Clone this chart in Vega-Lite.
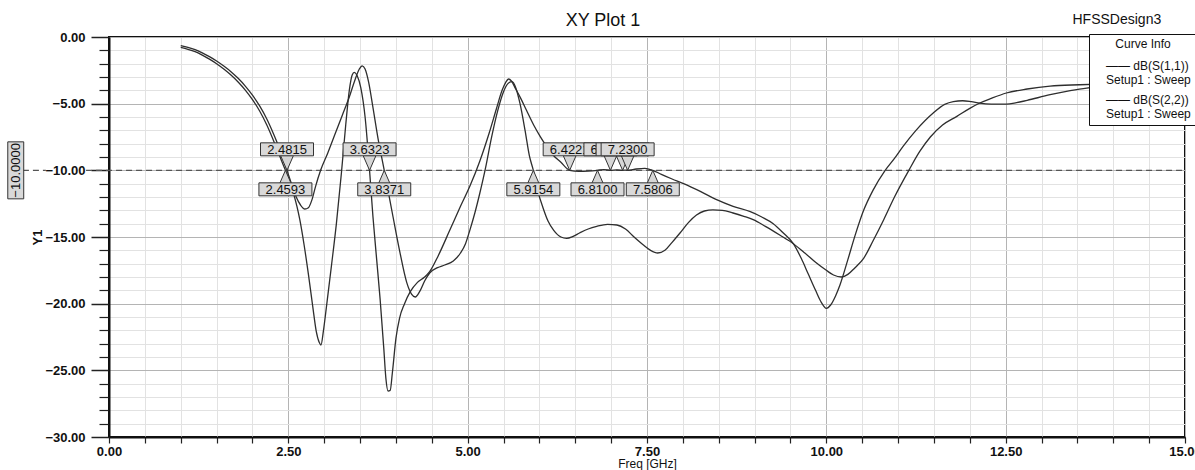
{
  "$schema": "https://vega.github.io/schema/vega-lite/v6.json",
  "width": 1076,
  "height": 400,
  "autosize": "none",
  "padding": {"left": 109, "top": 37, "right": 10, "bottom": 33},
  "background": "white",
  "title": {"text": "XY Plot 1", "fontSize": 18, "fontWeight": "normal", "font": "Liberation Sans", "anchor": "middle", "frame": "group", "baseline": "bottom", "offset": -35, "dx": -44, "color": "#111"},
  "config": {
    "font": "Liberation Sans",
    "view": {"stroke": "#111", "strokeWidth": 2},
    "axis": {"labelFont": "Liberation Sans", "titleFont": "Liberation Sans", "labelColor": "#111", "titleColor": "#111"}
  },
  "datasets": {
    "curves": [
      {"f":1.0,"db":-0.78,"s":"S11"},{"f":1.1,"db":-0.92,"s":"S11"},{"f":1.2,"db":-1.1,"s":"S11"},{"f":1.3,"db":-1.36,"s":"S11"},{"f":1.4,"db":-1.66,"s":"S11"},{"f":1.5,"db":-2.0,"s":"S11"},{"f":1.6,"db":-2.4,"s":"S11"},{"f":1.7,"db":-2.85,"s":"S11"},{"f":1.8,"db":-3.37,"s":"S11"},{"f":1.9,"db":-3.98,"s":"S11"},{"f":2.0,"db":-4.7,"s":"S11"},{"f":2.1,"db":-5.55,"s":"S11"},{"f":2.2,"db":-6.6,"s":"S11"},{"f":2.3,"db":-7.85,"s":"S11"},{"f":2.4,"db":-9.2,"s":"S11"},{"f":2.4593,"db":-10.0,"s":"S11"},{"f":2.52,"db":-10.8,"s":"S11"},{"f":2.57,"db":-11.7,"s":"S11"},{"f":2.62,"db":-12.7,"s":"S11"},{"f":2.66,"db":-13.7,"s":"S11"},{"f":2.72,"db":-15.6,"s":"S11"},{"f":2.78,"db":-17.8,"s":"S11"},{"f":2.84,"db":-20.2,"s":"S11"},{"f":2.89,"db":-22.1,"s":"S11"},{"f":2.93,"db":-22.9,"s":"S11"},{"f":2.955,"db":-23.1,"s":"S11"},{"f":2.99,"db":-22.0,"s":"S11"},{"f":3.03,"db":-20.3,"s":"S11"},{"f":3.1,"db":-17.2,"s":"S11"},{"f":3.17,"db":-14.0,"s":"S11"},{"f":3.24,"db":-10.2,"s":"S11"},{"f":3.3,"db":-6.6,"s":"S11"},{"f":3.35,"db":-4.0,"s":"S11"},{"f":3.39,"db":-2.85,"s":"S11"},{"f":3.42,"db":-2.65,"s":"S11"},{"f":3.46,"db":-2.9,"s":"S11"},{"f":3.51,"db":-3.8,"s":"S11"},{"f":3.57,"db":-6.0,"s":"S11"},{"f":3.6323,"db":-10.0,"s":"S11"},{"f":3.68,"db":-13.5,"s":"S11"},{"f":3.73,"db":-16.6,"s":"S11"},{"f":3.78,"db":-19.7,"s":"S11"},{"f":3.83,"db":-23.3,"s":"S11"},{"f":3.86,"db":-25.6,"s":"S11"},{"f":3.89,"db":-26.55,"s":"S11"},{"f":3.92,"db":-26.5,"s":"S11"},{"f":3.95,"db":-25.2,"s":"S11"},{"f":4.0,"db":-22.6,"s":"S11"},{"f":4.05,"db":-21.1,"s":"S11"},{"f":4.12,"db":-20.0,"s":"S11"},{"f":4.2,"db":-19.1,"s":"S11"},{"f":4.3,"db":-18.4,"s":"S11"},{"f":4.4,"db":-18.0,"s":"S11"},{"f":4.47,"db":-17.6,"s":"S11"},{"f":4.59,"db":-16.4,"s":"S11"},{"f":4.75,"db":-14.5,"s":"S11"},{"f":4.9,"db":-12.7,"s":"S11"},{"f":5.03,"db":-11.2,"s":"S11"},{"f":5.17,"db":-9.3,"s":"S11"},{"f":5.3,"db":-7.2,"s":"S11"},{"f":5.4,"db":-5.4,"s":"S11"},{"f":5.48,"db":-4.0,"s":"S11"},{"f":5.53,"db":-3.4,"s":"S11"},{"f":5.57,"db":-3.15,"s":"S11"},{"f":5.61,"db":-3.3,"s":"S11"},{"f":5.67,"db":-3.9,"s":"S11"},{"f":5.74,"db":-4.6,"s":"S11"},{"f":5.82,"db":-5.5,"s":"S11"},{"f":5.92,"db":-6.6,"s":"S11"},{"f":6.01,"db":-7.45,"s":"S11"},{"f":6.1,"db":-8.2,"s":"S11"},{"f":6.19,"db":-8.85,"s":"S11"},{"f":6.3,"db":-9.4,"s":"S11"},{"f":6.4221,"db":-10.0,"s":"S11"},{"f":6.55,"db":-10.08,"s":"S11"},{"f":6.68,"db":-10.06,"s":"S11"},{"f":6.81,"db":-10.0,"s":"S11"},{"f":6.9,"db":-9.94,"s":"S11"},{"f":6.99,"db":-10.0,"s":"S11"},{"f":7.08,"db":-9.96,"s":"S11"},{"f":7.16,"db":-10.0,"s":"S11"},{"f":7.2,"db":-9.98,"s":"S11"},{"f":7.23,"db":-10.0,"s":"S11"},{"f":7.35,"db":-9.9,"s":"S11"},{"f":7.47,"db":-9.85,"s":"S11"},{"f":7.5806,"db":-10.0,"s":"S11"},{"f":7.7,"db":-10.3,"s":"S11"},{"f":7.85,"db":-10.65,"s":"S11"},{"f":8.01,"db":-11.0,"s":"S11"},{"f":8.25,"db":-11.6,"s":"S11"},{"f":8.47,"db":-12.2,"s":"S11"},{"f":8.7,"db":-12.7,"s":"S11"},{"f":8.94,"db":-13.1,"s":"S11"},{"f":9.1,"db":-13.5,"s":"S11"},{"f":9.26,"db":-14.0,"s":"S11"},{"f":9.4,"db":-14.7,"s":"S11"},{"f":9.54,"db":-15.5,"s":"S11"},{"f":9.65,"db":-16.6,"s":"S11"},{"f":9.75,"db":-17.8,"s":"S11"},{"f":9.85,"db":-19.0,"s":"S11"},{"f":9.93,"db":-19.9,"s":"S11"},{"f":10.0,"db":-20.35,"s":"S11"},{"f":10.06,"db":-20.1,"s":"S11"},{"f":10.13,"db":-19.4,"s":"S11"},{"f":10.19,"db":-18.6,"s":"S11"},{"f":10.3,"db":-16.7,"s":"S11"},{"f":10.4,"db":-14.9,"s":"S11"},{"f":10.52,"db":-13.0,"s":"S11"},{"f":10.65,"db":-11.5,"s":"S11"},{"f":10.82,"db":-10.0,"s":"S11"},{"f":10.95,"db":-9.1,"s":"S11"},{"f":11.07,"db":-8.2,"s":"S11"},{"f":11.25,"db":-7.0,"s":"S11"},{"f":11.49,"db":-5.7,"s":"S11"},{"f":11.65,"db":-5.05,"s":"S11"},{"f":11.77,"db":-4.84,"s":"S11"},{"f":11.9,"db":-4.78,"s":"S11"},{"f":12.02,"db":-4.85,"s":"S11"},{"f":12.14,"db":-4.96,"s":"S11"},{"f":12.3,"db":-5.03,"s":"S11"},{"f":12.51,"db":-5.04,"s":"S11"},{"f":12.65,"db":-4.93,"s":"S11"},{"f":12.8,"db":-4.75,"s":"S11"},{"f":13.12,"db":-4.33,"s":"S11"},{"f":13.4,"db":-4.03,"s":"S11"},{"f":13.63,"db":-3.83,"s":"S11"},{"f":14.0,"db":-3.65,"s":"S11"},{"f":14.5,"db":-3.5,"s":"S11"},{"f":14.95,"db":-3.4,"s":"S11"},
      {"f":1.0,"db":-0.65,"s":"S22"},{"f":1.1,"db":-0.78,"s":"S22"},{"f":1.2,"db":-0.95,"s":"S22"},{"f":1.3,"db":-1.19,"s":"S22"},{"f":1.4,"db":-1.47,"s":"S22"},{"f":1.5,"db":-1.8,"s":"S22"},{"f":1.6,"db":-2.18,"s":"S22"},{"f":1.7,"db":-2.6,"s":"S22"},{"f":1.8,"db":-3.1,"s":"S22"},{"f":1.9,"db":-3.68,"s":"S22"},{"f":2.0,"db":-4.36,"s":"S22"},{"f":2.1,"db":-5.17,"s":"S22"},{"f":2.2,"db":-6.15,"s":"S22"},{"f":2.3,"db":-7.35,"s":"S22"},{"f":2.4,"db":-8.7,"s":"S22"},{"f":2.4815,"db":-10.0,"s":"S22"},{"f":2.55,"db":-11.1,"s":"S22"},{"f":2.61,"db":-12.0,"s":"S22"},{"f":2.67,"db":-12.6,"s":"S22"},{"f":2.73,"db":-12.9,"s":"S22"},{"f":2.78,"db":-12.8,"s":"S22"},{"f":2.83,"db":-12.2,"s":"S22"},{"f":2.88,"db":-11.2,"s":"S22"},{"f":2.95,"db":-10.0,"s":"S22"},{"f":3.05,"db":-8.7,"s":"S22"},{"f":3.15,"db":-7.3,"s":"S22"},{"f":3.25,"db":-5.9,"s":"S22"},{"f":3.35,"db":-4.5,"s":"S22"},{"f":3.43,"db":-3.2,"s":"S22"},{"f":3.49,"db":-2.4,"s":"S22"},{"f":3.53,"db":-2.16,"s":"S22"},{"f":3.57,"db":-2.4,"s":"S22"},{"f":3.62,"db":-3.4,"s":"S22"},{"f":3.68,"db":-5.3,"s":"S22"},{"f":3.75,"db":-7.6,"s":"S22"},{"f":3.8371,"db":-10.0,"s":"S22"},{"f":3.96,"db":-13.5,"s":"S22"},{"f":4.05,"db":-16.0,"s":"S22"},{"f":4.15,"db":-18.4,"s":"S22"},{"f":4.22,"db":-19.3,"s":"S22"},{"f":4.27,"db":-19.5,"s":"S22"},{"f":4.33,"db":-19.1,"s":"S22"},{"f":4.4,"db":-18.3,"s":"S22"},{"f":4.47,"db":-17.7,"s":"S22"},{"f":4.58,"db":-17.3,"s":"S22"},{"f":4.68,"db":-17.1,"s":"S22"},{"f":4.8,"db":-16.8,"s":"S22"},{"f":4.9,"db":-16.2,"s":"S22"},{"f":4.97,"db":-15.5,"s":"S22"},{"f":5.03,"db":-14.5,"s":"S22"},{"f":5.1,"db":-13.2,"s":"S22"},{"f":5.17,"db":-11.7,"s":"S22"},{"f":5.25,"db":-9.8,"s":"S22"},{"f":5.33,"db":-7.6,"s":"S22"},{"f":5.42,"db":-5.5,"s":"S22"},{"f":5.5,"db":-4.1,"s":"S22"},{"f":5.57,"db":-3.45,"s":"S22"},{"f":5.62,"db":-3.35,"s":"S22"},{"f":5.67,"db":-3.8,"s":"S22"},{"f":5.73,"db":-5.0,"s":"S22"},{"f":5.8,"db":-7.0,"s":"S22"},{"f":5.86,"db":-8.9,"s":"S22"},{"f":5.9154,"db":-10.0,"s":"S22"},{"f":5.98,"db":-11.6,"s":"S22"},{"f":6.05,"db":-12.8,"s":"S22"},{"f":6.12,"db":-13.8,"s":"S22"},{"f":6.2,"db":-14.5,"s":"S22"},{"f":6.3,"db":-15.0,"s":"S22"},{"f":6.38,"db":-15.1,"s":"S22"},{"f":6.47,"db":-14.95,"s":"S22"},{"f":6.56,"db":-14.7,"s":"S22"},{"f":6.68,"db":-14.4,"s":"S22"},{"f":6.8,"db":-14.2,"s":"S22"},{"f":6.95,"db":-14.05,"s":"S22"},{"f":7.08,"db":-14.1,"s":"S22"},{"f":7.2,"db":-14.4,"s":"S22"},{"f":7.32,"db":-15.0,"s":"S22"},{"f":7.45,"db":-15.6,"s":"S22"},{"f":7.55,"db":-16.0,"s":"S22"},{"f":7.65,"db":-16.2,"s":"S22"},{"f":7.75,"db":-16.0,"s":"S22"},{"f":7.85,"db":-15.4,"s":"S22"},{"f":7.96,"db":-14.7,"s":"S22"},{"f":8.08,"db":-13.9,"s":"S22"},{"f":8.19,"db":-13.35,"s":"S22"},{"f":8.3,"db":-13.05,"s":"S22"},{"f":8.42,"db":-12.97,"s":"S22"},{"f":8.55,"db":-13.0,"s":"S22"},{"f":8.7,"db":-13.2,"s":"S22"},{"f":8.85,"db":-13.45,"s":"S22"},{"f":8.98,"db":-13.7,"s":"S22"},{"f":9.15,"db":-14.2,"s":"S22"},{"f":9.35,"db":-14.85,"s":"S22"},{"f":9.54,"db":-15.5,"s":"S22"},{"f":9.7,"db":-16.2,"s":"S22"},{"f":9.85,"db":-16.9,"s":"S22"},{"f":10.0,"db":-17.5,"s":"S22"},{"f":10.1,"db":-17.85,"s":"S22"},{"f":10.21,"db":-18.0,"s":"S22"},{"f":10.3,"db":-17.8,"s":"S22"},{"f":10.4,"db":-17.3,"s":"S22"},{"f":10.52,"db":-16.6,"s":"S22"},{"f":10.65,"db":-15.3,"s":"S22"},{"f":10.8,"db":-13.7,"s":"S22"},{"f":10.95,"db":-12.0,"s":"S22"},{"f":11.15,"db":-10.0,"s":"S22"},{"f":11.3,"db":-8.6,"s":"S22"},{"f":11.45,"db":-7.5,"s":"S22"},{"f":11.62,"db":-6.6,"s":"S22"},{"f":11.82,"db":-5.95,"s":"S22"},{"f":12.0,"db":-5.35,"s":"S22"},{"f":12.14,"db":-4.95,"s":"S22"},{"f":12.3,"db":-4.6,"s":"S22"},{"f":12.51,"db":-4.2,"s":"S22"},{"f":12.8,"db":-3.9,"s":"S22"},{"f":13.12,"db":-3.68,"s":"S22"},{"f":13.53,"db":-3.58,"s":"S22"},{"f":14.0,"db":-3.5,"s":"S22"},{"f":14.5,"db":-3.42,"s":"S22"},{"f":14.95,"db":-3.38,"s":"S22"}
    ],
    "markers": [
      {"m":2.4815,"y":-10,"side":"up"},{"m":2.4593,"y":-10,"side":"down"},
      {"m":3.6323,"y":-10,"side":"up"},{"m":3.8371,"y":-10,"side":"down"},
      {"m":5.9154,"y":-10,"side":"down"},{"m":6.4221,"y":-10,"side":"up"},
      {"m":6.99,"y":-10,"side":"up"},{"m":7.16,"y":-10,"side":"up"},
      {"m":7.23,"y":-10,"side":"up"},{"m":6.81,"y":-10,"side":"down"},
      {"m":7.5806,"y":-10,"side":"down"}
    ]
  },
  "layer": [
    {
      "data": {"values": [{"a": -1.2, "b": -0.88, "level": -10}, {"a": -0.32, "b": 15, "level": -10}]},
      "mark": {"type": "rule", "strokeDash": [6, 4], "color": "#555555", "strokeWidth": 1.2, "clip": false},
      "encoding": {
        "x": {"field": "a", "type": "quantitative", "scale": {"domain": [0, 15], "nice": false, "zero": false},
          "axis": {"orient": "bottom", "values": [0.5,1,1.5,2,3,3.5,4,4.5,5.5,6,6.5,7,8,8.5,9,9.5,10.5,11,11.5,12,13,13.5,14,14.5], "grid": true, "gridColor": "#e2e2e2", "gridWidth": 1, "labels": false, "ticks": true, "tickSize": 6, "tickColor": "#222", "tickWidth": 1.2, "domain": false, "title": null}},
        "x2": {"field": "b"},
        "y": {"field": "level", "type": "quantitative", "scale": {"domain": [-30, 0], "nice": false, "zero": false},
          "axis": {"orient": "left", "values": [-1,-2,-3,-4,-6,-7,-8,-9,-11,-12,-13,-14,-16,-17,-18,-19,-21,-22,-23,-24,-26,-27,-28,-29], "grid": true, "gridColor": "#e2e2e2", "gridWidth": 1, "labels": false, "ticks": true, "tickSize": 10, "tickColor": "#222", "tickWidth": 1.2, "domain": false, "title": null}}
      }
    },
    {
      "data": {"name": "curves"},
      "mark": {"type": "line", "interpolate": "monotone", "strokeWidth": 1.3},
      "encoding": {
        "x": {"field": "f", "type": "quantitative", "scale": {"domain": [0, 15], "nice": false, "zero": false},
          "axis": {"orient": "bottom", "values": [0, 2.5, 5, 7.5, 10, 12.5, 15], "format": ".2f", "labelFontSize": 13, "labelFontWeight": "bold", "labelFlush": false, "labelOverlap": false, "labelPadding": 2, "tickSize": 6, "tickColor": "#222", "tickWidth": 1.2, "grid": true, "gridColor": "#b4b4b4", "gridWidth": 1, "domain": true, "domainColor": "#111", "domainWidth": 2, "title": "Freq [GHz]", "titleFontSize": 12, "titleFontWeight": "normal", "titlePadding": 0}},
        "y": {"field": "db", "type": "quantitative", "scale": {"domain": [-30, 0], "nice": false, "zero": false},
          "axis": {"orient": "left", "values": [0, -5, -10, -15, -20, -25, -30], "format": ".2f", "labelFontSize": 13, "labelFontWeight": "bold", "labelFlush": false, "labelOverlap": false, "labelPadding": 6, "tickSize": 18, "tickColor": "#222", "tickWidth": 1.5, "grid": true, "gridColor": "#b4b4b4", "gridWidth": 1, "domain": true, "domainColor": "#111", "domainWidth": 2, "title": "Y1", "titleFontSize": 13, "titleFontWeight": "bold", "titlePadding": 0}},
        "color": {"field": "s", "type": "nominal", "scale": {"domain": ["S11", "S22"], "range": ["#2e2e2e", "#2e2e2e"]},
          "legend": {"title": "Curve Info", "orient": "none", "legendX": 980, "legendY": -3, "direction": "vertical", "fillColor": "white", "strokeColor": "#111", "padding": 5, "titleAnchor": "middle", "titleFontSize": 12, "titleFontWeight": "normal", "titleColor": "#111", "titlePadding": 9, "labelFontSize": 12, "labelColor": "#111", "labelLimit": 300, "labelOffset": 0, "symbolSize": 0, "symbolOpacity": 0, "symbolType": "stroke", "rowPadding": 8,
            "labelExpr": "datum.label == 'S11' ? ['——  dB(S(1,1))', 'Setup1 : Sweep'] : ['——  dB(S(2,2))', 'Setup1 : Sweep']"}}
      }
    },
    {
      "data": {"name": "markers"},
      "transform": [{"filter": "datum.side == 'up'"}],
      "mark": {"type": "point", "shape": "M-0.87,-1L0.87,-1L0,1Z", "size": 225, "filled": true, "fill": "#d6d6d6", "stroke": "#333", "strokeWidth": 1, "opacity": 1, "yOffset": -7.5},
      "encoding": {"x": {"field": "m", "type": "quantitative", "axis": null}, "y": {"field": "y", "type": "quantitative", "axis": null}}
    },
    {
      "data": {"name": "markers"},
      "transform": [{"filter": "datum.side == 'down'"}],
      "mark": {"type": "point", "shape": "M-0.87,1L0.87,1L0,-1Z", "size": 225, "filled": true, "fill": "#d6d6d6", "stroke": "#333", "strokeWidth": 1, "opacity": 1, "yOffset": 7.5},
      "encoding": {"x": {"field": "m", "type": "quantitative", "axis": null}, "y": {"field": "y", "type": "quantitative", "axis": null}}
    },
    {
      "data": {"name": "markers"},
      "transform": [{"filter": "datum.side == 'down'"}],
      "mark": {"type": "point", "shape": "M-1,-0.245H1V0.245H-1Z", "size": 2809, "filled": true, "fill": "#d9d9d9", "stroke": "#333", "strokeWidth": 1, "opacity": 1, "yOffset": 19},
      "encoding": {"x": {"field": "m", "type": "quantitative", "axis": null}, "y": {"field": "y", "type": "quantitative", "axis": null}}
    },
    {
      "data": {"name": "markers"},
      "transform": [{"filter": "datum.side == 'down'"}],
      "mark": {"type": "text", "fontSize": 13, "color": "#111", "align": "center", "baseline": "middle", "yOffset": 19.5},
      "encoding": {"x": {"field": "m", "type": "quantitative", "axis": null}, "y": {"field": "y", "type": "quantitative", "axis": null}, "text": {"field": "m", "type": "quantitative", "format": ".4f"}}
    },
    {
      "data": {"name": "markers"},
      "transform": [{"filter": "datum.side == 'up' && datum.m < 6.9"}],
      "mark": {"type": "point", "shape": "M-1,-0.245H1V0.245H-1Z", "size": 2809, "filled": true, "fill": "#d9d9d9", "stroke": "#333", "strokeWidth": 1, "opacity": 1, "yOffset": -21},
      "encoding": {"x": {"field": "m", "type": "quantitative", "axis": null}, "y": {"field": "y", "type": "quantitative", "axis": null}}
    },
    {
      "data": {"name": "markers"},
      "transform": [{"filter": "datum.side == 'up' && datum.m < 6.9"}],
      "mark": {"type": "text", "fontSize": 13, "color": "#111", "align": "center", "baseline": "middle", "yOffset": -20.5},
      "encoding": {"x": {"field": "m", "type": "quantitative", "axis": null}, "y": {"field": "y", "type": "quantitative", "axis": null}, "text": {"field": "m", "type": "quantitative", "format": ".4f"}}
    },
    {
      "data": {"name": "markers"},
      "transform": [{"filter": "datum.side == 'up' && datum.m > 6.9 && datum.m < 7.05"}],
      "mark": {"type": "point", "shape": "M-1,-0.245H1V0.245H-1Z", "size": 2809, "filled": true, "fill": "#d9d9d9", "stroke": "#333", "strokeWidth": 1, "opacity": 1, "yOffset": -21},
      "encoding": {"x": {"field": "m", "type": "quantitative", "axis": null}, "y": {"field": "y", "type": "quantitative", "axis": null}}
    },
    {
      "data": {"name": "markers"},
      "transform": [{"filter": "datum.side == 'up' && datum.m > 6.9 && datum.m < 7.05"}],
      "mark": {"type": "text", "fontSize": 13, "color": "#111", "align": "center", "baseline": "middle", "yOffset": -20.5},
      "encoding": {"x": {"field": "m", "type": "quantitative", "axis": null}, "y": {"field": "y", "type": "quantitative", "axis": null}, "text": {"field": "m", "type": "quantitative", "format": ".4f"}}
    },
    {
      "data": {"name": "markers"},
      "transform": [{"filter": "datum.side == 'up' && datum.m > 7.05 && datum.m < 7.2"}],
      "mark": {"type": "point", "shape": "M-1,-0.245H1V0.245H-1Z", "size": 2809, "filled": true, "fill": "#d9d9d9", "stroke": "#333", "strokeWidth": 1, "opacity": 1, "yOffset": -21},
      "encoding": {"x": {"field": "m", "type": "quantitative", "axis": null}, "y": {"field": "y", "type": "quantitative", "axis": null}}
    },
    {
      "data": {"name": "markers"},
      "transform": [{"filter": "datum.side == 'up' && datum.m > 7.05 && datum.m < 7.2"}],
      "mark": {"type": "text", "fontSize": 13, "color": "#111", "align": "center", "baseline": "middle", "yOffset": -20.5},
      "encoding": {"x": {"field": "m", "type": "quantitative", "axis": null}, "y": {"field": "y", "type": "quantitative", "axis": null}, "text": {"field": "m", "type": "quantitative", "format": ".4f"}}
    },
    {
      "data": {"name": "markers"},
      "transform": [{"filter": "datum.side == 'up' && datum.m > 7.2"}],
      "mark": {"type": "point", "shape": "M-1,-0.245H1V0.245H-1Z", "size": 2809, "filled": true, "fill": "#d9d9d9", "stroke": "#333", "strokeWidth": 1, "opacity": 1, "yOffset": -21},
      "encoding": {"x": {"field": "m", "type": "quantitative", "axis": null}, "y": {"field": "y", "type": "quantitative", "axis": null}}
    },
    {
      "data": {"name": "markers"},
      "transform": [{"filter": "datum.side == 'up' && datum.m > 7.2"}],
      "mark": {"type": "text", "fontSize": 13, "color": "#111", "align": "center", "baseline": "middle", "yOffset": -20.5},
      "encoding": {"x": {"field": "m", "type": "quantitative", "axis": null}, "y": {"field": "y", "type": "quantitative", "axis": null}, "text": {"field": "m", "type": "quantitative", "format": ".4f"}}
    },
    {
      "data": {"values": [{"lv": -10}]},
      "mark": {"type": "point", "shape": "M-0.28,-1H0.28V1H-0.28Z", "size": 3249, "filled": true, "fill": "#d9d9d9", "stroke": "#333", "strokeWidth": 1, "opacity": 1, "clip": false},
      "encoding": {"x": {"datum": -1.3, "type": "quantitative", "axis": null}, "y": {"field": "lv", "type": "quantitative", "axis": null}}
    },
    {
      "data": {"values": [{"lv": -10}]},
      "mark": {"type": "text", "fontSize": 13, "color": "#111", "align": "center", "baseline": "middle", "angle": 270, "clip": false},
      "encoding": {"x": {"datum": -1.3, "type": "quantitative", "axis": null}, "y": {"field": "lv", "type": "quantitative", "axis": null}, "text": {"field": "lv", "type": "quantitative", "format": ".4f"}}
    },
    {
      "data": {"values": [{"name": "HFSSDesign3"}]},
      "mark": {"type": "text", "fontSize": 14, "color": "#111", "align": "center", "baseline": "middle", "clip": false},
      "encoding": {"x": {"datum": 14.05, "type": "quantitative", "axis": null}, "y": {"datum": 1.3, "type": "quantitative", "axis": null}, "text": {"field": "name", "type": "nominal"}}
    }
  ],
  "resolve": {"axis": {"x": "independent", "y": "independent"}}
}
